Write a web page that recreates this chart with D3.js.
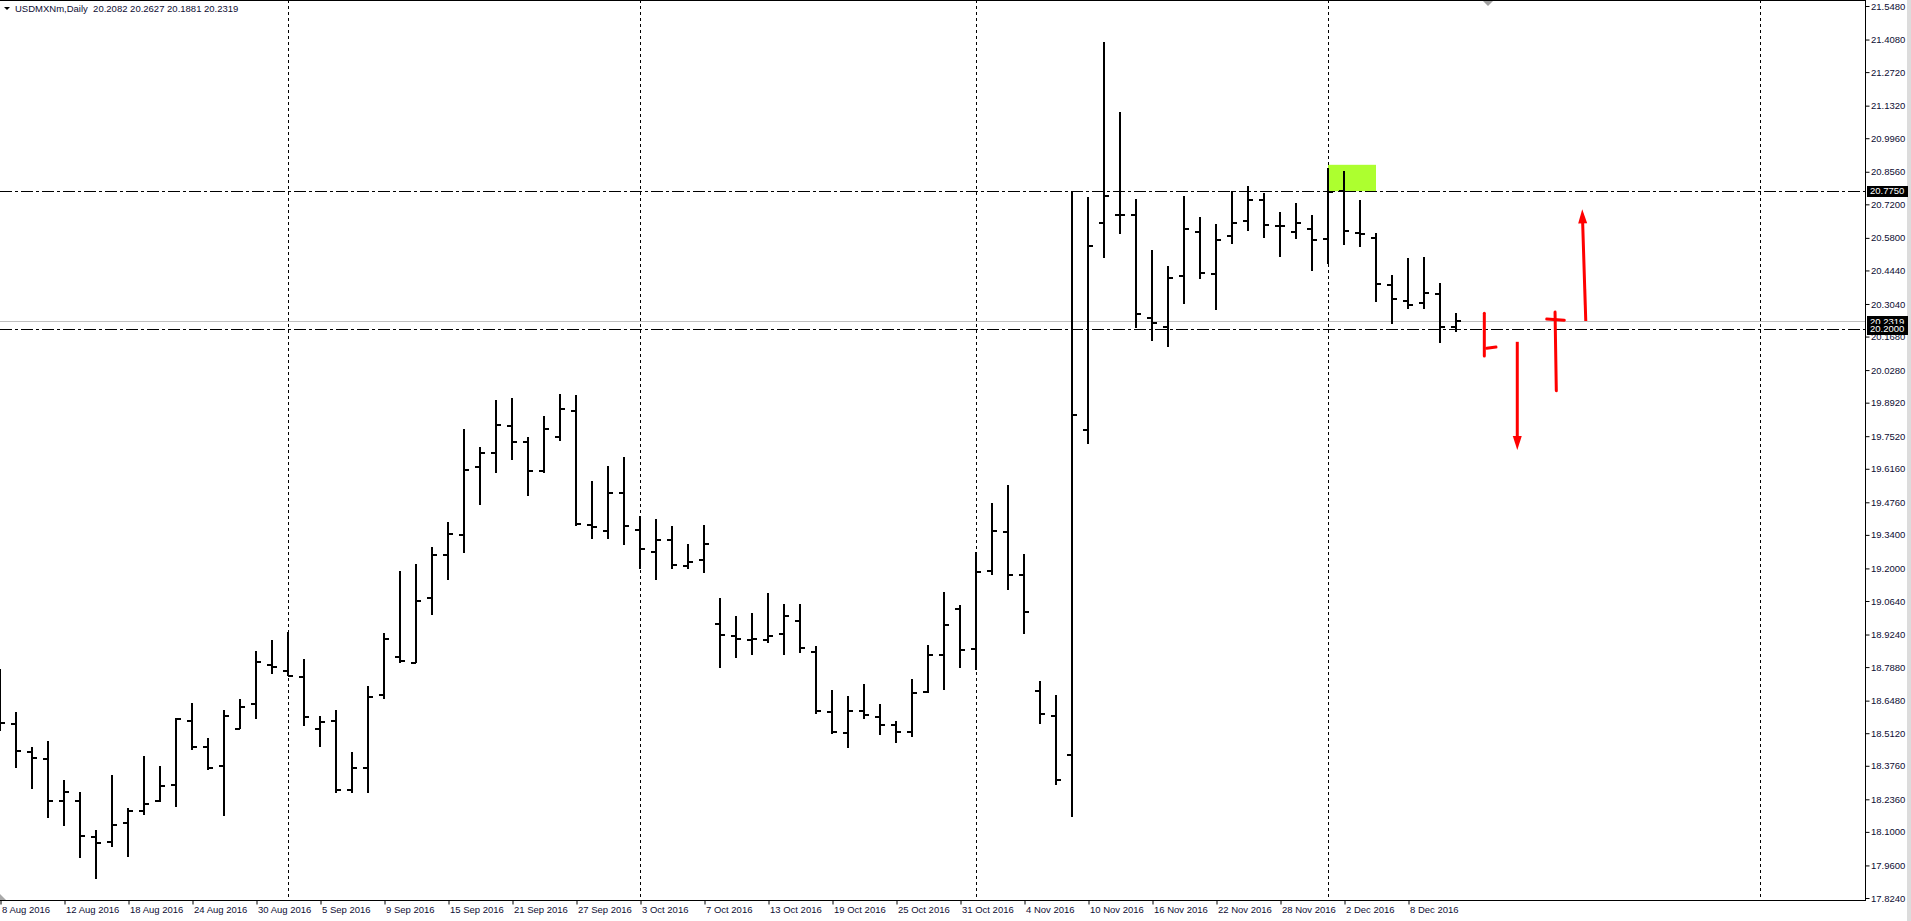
<!DOCTYPE html>
<html><head><meta charset="utf-8">
<script src="https://cdn.jsdelivr.net/npm/d3@7"></script>
<style>html,body{margin:0;padding:0;background:#fff;overflow:hidden}</style>
</head><body>
<svg id="chart" width="1911" height="921"></svg>
<script>
// ---------------- data ----------------
const symbolTitle = "USDMXNm,Daily";
const lastQuote = [20.2082, 20.2627, 20.1881, 20.2319];

const open = [18.640,18.552,18.433,18.405,18.230,18.230,18.079,18.059,18.138,18.188,
  18.230,18.297,18.562,18.456,18.374,18.531,18.633,18.798,18.773,18.745,
  18.531,18.564,18.276,18.368,18.670,18.831,18.806,19.078,19.257,19.339,
  19.625,19.683,19.796,19.729,19.608,19.750,19.858,19.382,19.357,19.516,
  19.360,19.270,19.317,19.210,19.235,18.969,18.919,18.902,18.902,18.925,
  18.982,18.852,18.602,18.514,18.606,18.581,18.546,18.517,18.684,18.838,
  19.030,18.862,19.188,19.352,19.171,18.687,18.583,18.423,19.778,20.642,
  20.677,20.677,20.244,20.206,20.421,20.606,20.430,20.589,20.649,20.739,
  20.631,20.606,20.617,20.575,20.777,20.602,20.581,20.384,20.318,20.307,
  20.347,20.2082];
const high = [18.779,18.600,18.453,18.478,18.315,18.265,18.107,18.336,18.198,18.413,
  18.375,18.574,18.638,18.491,18.608,18.653,18.854,18.901,18.934,18.820,
  18.582,18.608,18.433,18.709,18.929,19.188,19.218,19.288,19.392,19.778,
  19.706,19.902,19.910,19.747,19.835,19.924,19.920,19.561,19.627,19.664,
  19.417,19.405,19.377,19.301,19.380,19.075,19.001,19.010,19.096,19.050,
  19.050,18.873,18.692,18.667,18.716,18.633,18.560,18.737,18.877,19.100,
  19.046,19.267,19.469,19.548,19.260,18.726,18.668,20.775,20.747,21.394,
  21.105,20.741,20.528,20.460,20.751,20.666,20.637,20.774,20.796,20.766,
  20.687,20.724,20.672,20.870,20.859,20.738,20.599,20.421,20.493,20.497,
  20.390,20.2627];
const low = [18.525,18.370,18.280,18.161,18.126,17.992,17.906,18.038,17.996,18.173,
  18.226,18.205,18.445,18.361,18.167,18.531,18.572,18.760,18.751,18.543,
  18.456,18.266,18.266,18.266,18.658,18.806,18.806,19.008,19.154,19.265,
  19.468,19.600,19.655,19.503,19.601,19.736,19.381,19.324,19.324,19.301,
  19.200,19.154,19.200,19.200,19.184,18.787,18.827,18.840,18.891,18.841,
  18.851,18.595,18.512,18.453,18.574,18.507,18.474,18.500,18.684,18.695,
  18.785,18.777,19.173,19.111,18.930,18.551,18.299,18.163,19.722,20.498,
  20.598,20.204,20.153,20.127,20.306,20.409,20.280,20.556,20.612,20.581,
  20.501,20.576,20.443,20.471,20.551,20.543,20.313,20.223,20.284,20.284,
  20.142,20.1881];
const close = [18.556,18.439,18.410,18.230,18.268,18.083,18.055,18.130,18.188,18.218,
  18.293,18.571,18.454,18.368,18.585,18.623,18.810,18.787,18.752,18.580,
  18.560,18.276,18.368,18.664,18.904,18.813,19.065,19.255,19.344,19.611,
  19.681,19.800,19.729,19.608,19.783,19.867,19.385,19.374,19.516,19.376,
  19.281,19.319,19.215,19.228,19.303,18.922,18.905,18.907,18.918,19.002,
  18.868,18.605,18.517,18.606,18.588,18.547,18.518,18.680,18.838,18.965,
  18.859,19.184,19.358,19.171,19.020,18.593,18.317,19.840,20.547,20.753,
  20.677,20.263,20.225,20.412,20.619,20.433,20.572,20.643,20.739,20.634,
  20.631,20.643,20.572,20.773,20.610,20.596,20.389,20.326,20.301,20.351,
  20.207,20.2319];

const xLabels = ["8 Aug 2016","12 Aug 2016","18 Aug 2016","24 Aug 2016","30 Aug 2016",
  "5 Sep 2016","9 Sep 2016","15 Sep 2016","21 Sep 2016","27 Sep 2016","3 Oct 2016",
  "7 Oct 2016","13 Oct 2016","19 Oct 2016","25 Oct 2016","31 Oct 2016","4 Nov 2016",
  "10 Nov 2016","16 Nov 2016","22 Nov 2016","28 Nov 2016","2 Dec 2016","8 Dec 2016"];
const xLabelStep = 4; // bars between date labels

const yTicks = [21.548,21.408,21.272,21.132,20.996,20.856,20.720,20.580,20.444,20.304,
  20.168,20.028,19.892,19.752,19.616,19.476,19.340,19.200,19.064,18.924,18.788,18.648,
  18.512,18.376,18.236,18.100,17.960,17.824];

const levelLines = [20.7750, 20.2000];
const bidPrice = 20.2319;
const monthGridBars = [18, 40, 61, 83, 110];

// annotation objects, in (bar index, price) units
const zoneRect = {x0: 83, x1: 86, p0: 20.775, p1: 20.885};
const redStrokes = [
  [[92.77, 20.265], [92.77, 20.087]],
  [[92.92, 20.119], [93.5, 20.124]],
  [[97.19, 20.270], [97.27, 19.942]],
  [[96.67, 20.241], [97.77, 20.236]]
];
const redArrows = [
  {from: [94.83, 20.146], to: [94.83, 19.694]},
  {from: [99.11, 20.233], to: [98.89, 20.699]}
];
const shiftMarkBar = 93;

// ---------------- layout ----------------
const W = 1911, H = 921;
const plotRight = 1865, plotBottom = 900;
const FONT = "'Liberation Sans', Arial, sans-serif";
const TXT = "#0d0d33";

const x = d3.scaleLinear().domain([0, 91]).range([0, 1456]);
const y = d3.scaleLinear().domain([17.824, 21.548]).range([898, 6]);

const svg = d3.select("#chart");
svg.append("rect").attr("width", W).attr("height", H).attr("fill", "#fff");

svg.append("defs").append("clipPath").attr("id", "plot")
  .append("rect").attr("x", 0).attr("y", 0).attr("width", plotRight).attr("height", plotBottom);

const plot = svg.append("g").attr("clip-path", "url(#plot)");

// zone rectangle (background)
plot.append("rect")
  .attr("x", x(zoneRect.x0)).attr("width", x(zoneRect.x1) - x(zoneRect.x0))
  .attr("y", y(zoneRect.p1)).attr("height", y(zoneRect.p0) - y(zoneRect.p1))
  .attr("fill", "#adff2f");

// month grid
plot.selectAll("line.grid").data(monthGridBars).join("line")
  .attr("x1", d => x(d) + 0.5).attr("x2", d => x(d) + 0.5)
  .attr("y1", 0).attr("y2", plotBottom)
  .attr("stroke", "#000").attr("stroke-width", 1).attr("stroke-dasharray", "3,3");

// bid line
plot.append("line")
  .attr("x1", 0).attr("x2", plotRight)
  .attr("y1", Math.round(y(bidPrice)) + 0.5).attr("y2", Math.round(y(bidPrice)) + 0.5)
  .attr("stroke", "#c0c0c0").attr("stroke-width", 1);

// level lines (dash-dot)
plot.selectAll("line.lvl").data(levelLines).join("line")
  .attr("x1", 0).attr("x2", plotRight)
  .attr("y1", d => Math.round(y(d)) + 0.5).attr("y2", d => Math.round(y(d)) + 0.5)
  .attr("stroke", "#000").attr("stroke-width", 1).attr("stroke-dasharray", "12,3,3,3");

// OHLC bars
const bars = open.map((o, i) => ({i, o, h: high[i], l: low[i], c: close[i]}));
const bg = plot.append("g").attr("stroke", "#000").attr("stroke-width", 2)
  .attr("shape-rendering", "crispEdges");
const tick = 5;
bars.forEach(b => {
  const cx = x(b.i);
  bg.append("line").attr("x1", cx).attr("x2", cx).attr("y1", y(b.h) - 0.5).attr("y2", y(b.l) + 0.5);
  bg.append("line").attr("x1", cx - tick).attr("x2", cx).attr("y1", y(b.o)).attr("y2", y(b.o));
  bg.append("line").attr("x1", cx).attr("x2", cx + tick).attr("y1", y(b.c)).attr("y2", y(b.c));
});

// red hand-drawn annotations
const red = "#ff0000";
const rg = plot.append("g");
redStrokes.forEach(s => {
  rg.append("line")
    .attr("x1", x(s[0][0])).attr("y1", y(s[0][1]))
    .attr("x2", x(s[1][0])).attr("y2", y(s[1][1]))
    .attr("stroke", red).attr("stroke-width", 3).attr("stroke-linecap", "round");
});
redArrows.forEach(a => {
  const x1 = x(a.from[0]), y1 = y(a.from[1]), x2 = x(a.to[0]), y2 = y(a.to[1]);
  const dx = x2 - x1, dy = y2 - y1, len = Math.hypot(dx, dy);
  const ux = dx / len, uy = dy / len, px = -uy, py = ux;
  const hl = 14, hw = 4.5;
  const bx = x2 - ux * hl, by = y2 - uy * hl;
  rg.append("line").attr("x1", x1).attr("y1", y1).attr("x2", bx + ux * 2).attr("y2", by + uy * 2)
    .attr("stroke", red).attr("stroke-width", 3);
  rg.append("path")
    .attr("d", `M${x2},${y2}L${bx + px * hw},${by + py * hw}L${bx - px * hw},${by - py * hw}Z`)
    .attr("fill", red);
});

// frame lines
svg.append("line").attr("x1", 0).attr("x2", plotRight + 1).attr("y1", 0.5).attr("y2", 0.5)
  .attr("stroke", "#000");
svg.append("line").attr("x1", plotRight + 0.5).attr("x2", plotRight + 0.5).attr("y1", 0).attr("y2", plotBottom + 1)
  .attr("stroke", "#000");
svg.append("line").attr("x1", 0).attr("x2", plotRight + 1).attr("y1", plotBottom + 0.5).attr("y2", plotBottom + 0.5)
  .attr("stroke", "#000");
svg.append("rect").attr("x", 1907).attr("y", 0).attr("width", 4).attr("height", H).attr("fill", "#dcdcdc");

// right price axis
const yAxis = d3.axisRight(y).tickValues(yTicks).tickSize(4).tickPadding(1.5)
  .tickFormat(d3.format(".4f"));
const ya = svg.append("g").attr("transform", `translate(${plotRight + 0.5},0)`).call(yAxis);
ya.select(".domain").remove();
ya.selectAll("line").attr("stroke", "#000");
ya.selectAll("text").attr("fill", TXT).style("font-family", FONT).style("font-size", "9.5px");

// price boxes (bid first, then levels on top)
const boxes = [bidPrice, ...levelLines];
boxes.forEach(v => {
  const cy = y(v);
  svg.append("rect").attr("x", plotRight + 2).attr("y", Math.round(cy) - 5).attr("width", 41).attr("height", 11)
    .attr("fill", "#000");
  svg.append("text").attr("x", plotRight + 5).attr("y", cy).attr("dy", "0.35em")
    .attr("fill", "#fff").style("font-family", FONT).style("font-size", "9.5px")
    .text(d3.format(".4f")(v));
});

// bottom date axis
const labelIdx = xLabels.map((d, k) => k * xLabelStep);
const xAxis = d3.axisBottom(x).tickValues(labelIdx).tickSize(4).tickPadding(2)
  .tickFormat((d, k) => xLabels[k]);
const xa = svg.append("g").attr("transform", `translate(0.5,${plotBottom + 0.5})`).call(xAxis);
xa.select(".domain").remove();
xa.selectAll("line").attr("stroke", "#000");
xa.selectAll("text").attr("fill", TXT).attr("text-anchor", "start").attr("x", 1)
  .style("font-family", FONT).style("font-size", "9.5px");

// little UI markers
svg.append("path").attr("d", "M0,894L0,900L6,900Z").attr("fill", "#a9a9a9");
const sx = x(shiftMarkBar);
svg.append("path").attr("d", `M${sx - 5},1L${sx + 5},1L${sx},6Z`).attr("fill", "#a0a0a0");

// title
svg.append("path").attr("d", "M4,7L10,7L7,10Z").attr("fill", "#000");
svg.append("text").attr("x", 15).attr("y", 12).attr("fill", TXT)
  .style("font-family", FONT).style("font-size", "9.5px").style("white-space", "pre")
  .text(symbolTitle + "  " + lastQuote.map(d3.format(".4f")).join(" "));
</script>
</body></html>
